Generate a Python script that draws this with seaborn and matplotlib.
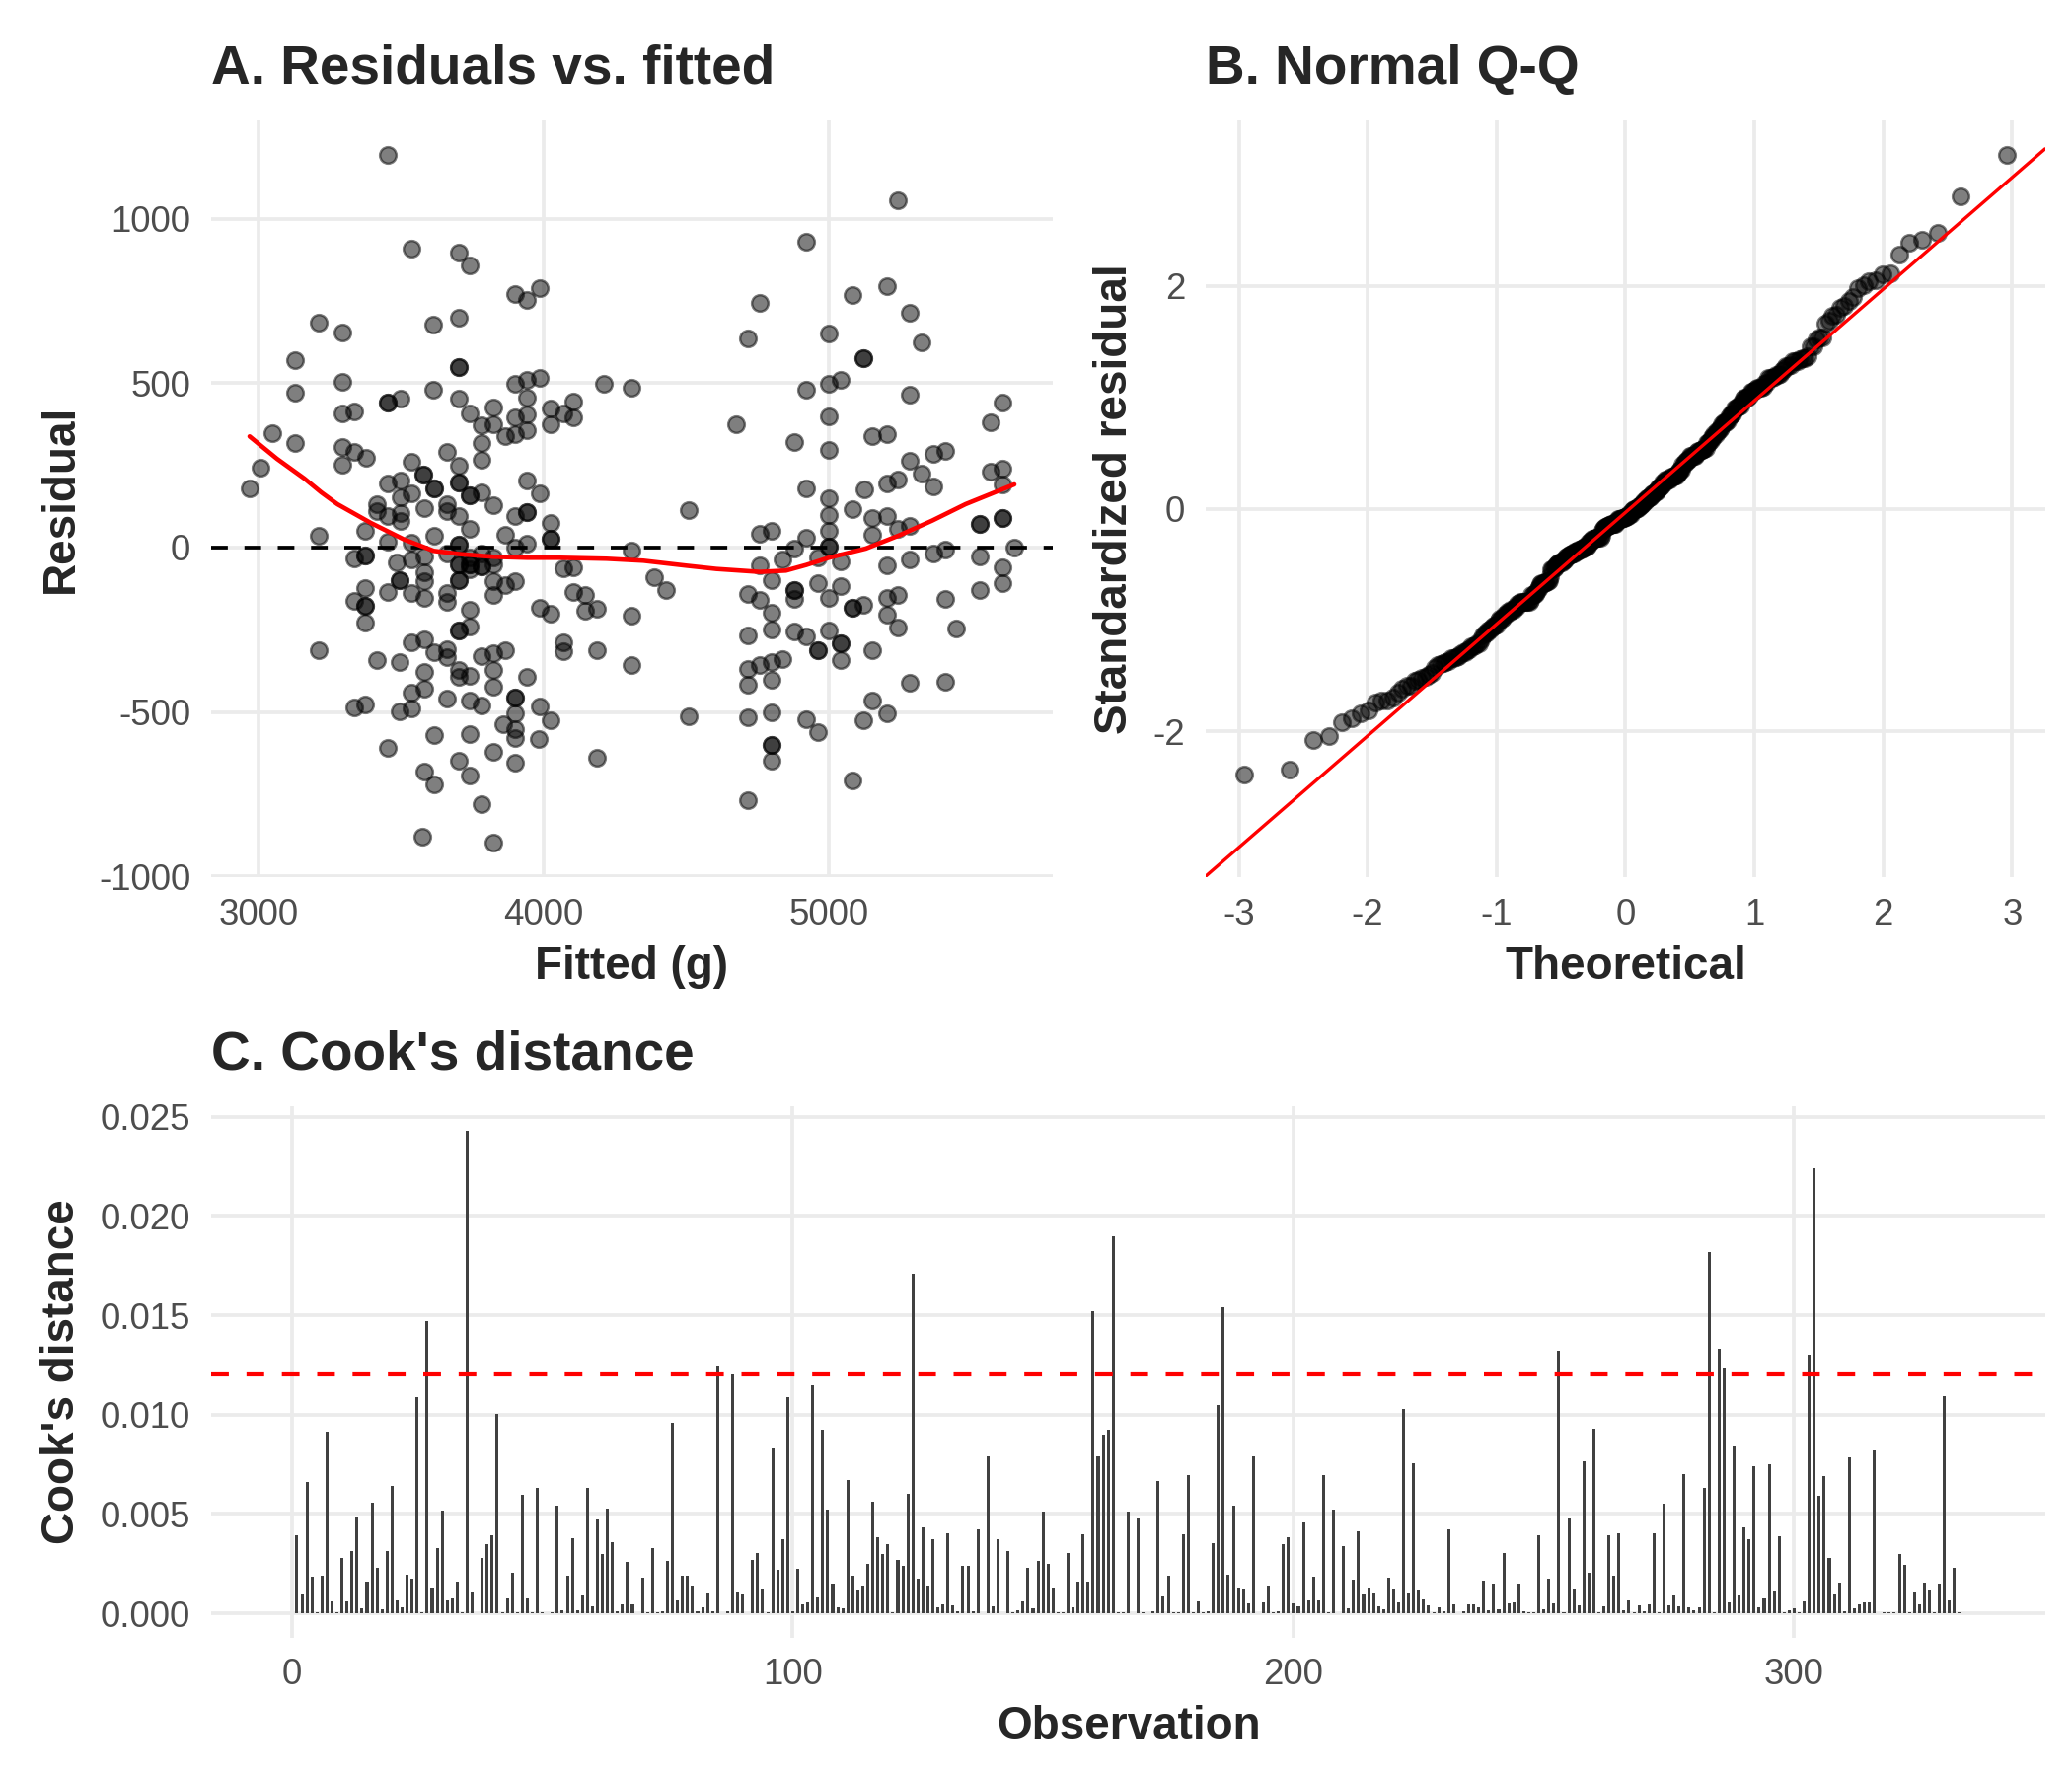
import numpy as np
import pandas as pd
import matplotlib
matplotlib.use("Agg")
import matplotlib.pyplot as plt
import seaborn as sns
from statistics import NormalDist

# Panel A: fitted body mass (g) and raw residuals
# (overlapping / darker points listed twice)
fitted = [
    3455, 3537, 3213, 3295, 3613, 3129, 3129, 3295, 3455, 3455,
    3499, 3613, 3295, 3335, 3050, 3129, 3295, 3335, 3376, 3295,
    3007, 2969, 3536, 3578, 3578, 3615, 3615, 3453, 3498, 3498,
    3536, 3415, 3415, 3454, 3498, 3498, 3580, 3373, 3213, 3615,
    3454, 3536, 3335, 3373, 3373, 3485, 3536, 3580, 3580, 3496,
    3496, 3580, 3373, 3454, 3536, 3580, 3335, 3373, 3373, 3373,
    3213, 3415, 3496, 3536, 3580, 3615, 3580, 3536, 3580, 3335,
    3373, 3496, 3536, 3615, 3454, 3580, 3615, 3576,
    3701, 3741, 3901, 3942, 3986, 3701, 3701, 3701, 3701, 3901,
    3942, 3986, 3741, 3782, 3823, 3823, 3864, 3901, 3901, 3942,
    3942, 3942, 4026, 4026, 4068, 4105, 4105, 4210, 3782, 3782,
    3660, 3701, 3701, 3701, 3741, 3741, 3782, 3823, 3660, 3660,
    3701, 3942, 3986, 3901, 3942, 3942, 3741, 3864, 4023, 4023,
    4023, 3701, 3701, 3942, 3901, 3660, 3741, 3782, 3823, 3701,
    3701, 3741, 3741, 3782, 3782, 3823, 3701, 3701, 3741, 3823,
    3864, 3901, 3823, 3660, 3660, 4068, 4105, 4105, 4146, 4186,
    4146, 3986, 4026, 3741, 3741, 3701, 3701, 4068, 4068, 4186,
    3660, 3660, 3701, 3701, 3741, 3782, 3823, 3864, 3823, 3823,
    3660, 3741, 3782, 3901, 3901, 3942, 3901, 3986, 4026, 3860,
    3901, 3901, 3983, 3741, 3701, 3741, 3823, 3901, 4186, 3782,
    3823,
    4308, 4308, 4308, 4308, 4388, 4430, 4509, 4509,
    4921, 4758, 5082, 4717, 5000, 5122, 5122, 4921, 5000, 5043,
    4676, 5000, 4880, 5000, 5154, 4921, 5125, 5000, 5082, 5000,
    5154, 4758, 4798, 4921, 5000, 5154, 4880, 5000, 5000, 4758,
    4839, 4962, 5043, 4798, 4717, 4758, 4880, 4880, 4880, 4962,
    5000, 5043, 5082, 5082, 5122, 4798, 4798, 4717, 4880, 4921,
    4962, 4962, 5000, 5043, 5043, 5043, 5154, 4717, 4758, 4798,
    4839, 4717, 4798, 5154, 4717, 4798, 4921, 4962, 5122, 4798,
    4798, 4798, 5082, 4717,
    5243, 5203, 5285, 5326, 5285, 5203, 5608, 5569, 5285, 5367,
    5407, 5326, 5367, 5203, 5243, 5569, 5608, 5608, 5203, 5243,
    5285, 5529, 5529, 5610, 5610, 5367, 5407, 5651, 5203, 5285,
    5529, 5610, 5610, 5529, 5203, 5243, 5203, 5243, 5407, 5447,
    5285, 5407, 5203,
]
residual = [
    1193, 909, 683, 653, 679, 570, 470, 504, 442, 442,
    452, 480, 409, 413, 348, 317, 307, 291, 274, 253,
    243, 179, 260, 222, 222, 179, 179, 196, 203, 153,
    165, 132, 111, 97, 104, 80, 121, 50, 36, 36,
    18, 14, -34, -24, -24, -45, -36, -28, -74, -98,
    -98, -102, -124, -134, -138, -152, -162, -176, -176, -227,
    -313, -341, -348, -287, -280, -318, -379, -440, -429, -486,
    -476, -497, -490, -571, -609, -680, -720, -879,
    896, 857, 771, 754, 790, 700, 548, 548, 452, 497,
    509, 516, 409, 371, 426, 376, 338, 395, 345, 455,
    405, 357, 423, 374, 409, 445, 395, 497, 317, 267,
    291, 250, 199, 199, 158, 158, 168, 128, 132, 111,
    97, 203, 165, 97, 107, 107, 57, 40, 75, 26,
    26, 9, 9, 11, 0, -17, -31, -17, -31, -50,
    -50, -52, -52, -57, -57, -52, -99, -99, -67, -102,
    -114, -102, -145, -138, -166, -64, -60, -134, -145, -185,
    -192, -183, -202, -188, -240, -251, -251, -287, -315, -313,
    -308, -332, -372, -393, -391, -330, -320, -313, -372, -422,
    -460, -464, -479, -455, -455, -393, -503, -483, -526, -536,
    -553, -578, -582, -567, -649, -692, -621, -653, -639, -781,
    -898,
    486, -8, -206, -356, -90, -130, 113, -514,
    930, 743, 769, 636, 651, 577, 577, 480, 499, 509,
    374, 399, 321, 298, 338, 179, 178, 149, 118, 99,
    89, 43, 51, 30, 51, 40, -3, 3, 3, -55,
    -36, -31, -43, -99, -142, -159, -128, -128, -156, -109,
    -152, -116, -183, -183, -173, -199, -249, -266, -256, -270,
    -313, -313, -251, -291, -291, -341, -313, -368, -358, -347,
    -340, -418, -401, -464, -517, -500, -521, -561, -524, -599,
    -599, -649, -709, -767,
    1055, 795, 714, 625, 466, 345, 440, 381, 263, 284,
    293, 224, 185, 196, 206, 232, 241, 192, 97, 57,
    65, 71, 71, 89, 89, -17, -6, 0, -55, -36,
    -28, -60, -109, -128, -152, -145, -205, -244, -156, -247,
    -411, -408, -503,
]

# loess curve in panel A
smooth_fitted = [2969, 3065, 3161, 3220, 3277, 3394, 3510, 3615, 3709, 3825,
                 3942, 4058, 4221, 4350, 4500, 4606, 4758, 4850, 4921, 5000,
                 5130, 5247, 5363, 5480, 5651]
smooth_resid = [338, 270, 210, 168, 132, 75, 25, -10, -20, -28,
                -31, -31, -34, -40, -55, -65, -74, -70, -53, -31,
                -3, 37, 82, 132, 192]

# Panel C: Cook's distance per observation (1..333)
cooks_d = [
    0.00393, 0.00095, 0.00662, 0.00186, 0.00005, 0.0019, 0.00913, 0.0006, 0.00005, 0.0028,
    0.0006, 0.00316, 0.00487, 0.00025, 0.0016, 0.00557, 0.0023, 0.0002, 0.00316, 0.00642,
    0.00065, 0.0003, 0.00196, 0.00176, 0.01089, 0.00005, 0.0147, 0.0013, 0.0033, 0.00517,
    0.00065, 0.00075, 0.0016, 0.00005, 0.0243, 0.00105, 0.0, 0.0028, 0.00346, 0.00393,
    0.01003, 0.00005, 0.00075, 0.00206, 0.00005, 0.00597, 0.00075, 0.00005, 0.00632, 0.00005,
    0.0, 0.00005, 0.00542, 0.00015, 0.0019, 0.00376, 0.00015, 0.0009, 0.00632, 0.00035,
    0.00472, 0.003, 0.00527, 0.0036, 0.0001, 0.00045, 0.0026, 0.00045, 0.0, 0.0018,
    0.00005, 0.0033, 0.00005, 0.0001, 0.00266, 0.00958, 0.00065, 0.0019, 0.0019, 0.0014,
    0.0001, 0.0003, 0.001, 0.0001, 0.01249, 0.0, 0.0001, 0.01204, 0.00105, 0.00095,
    0.0, 0.0027, 0.00306, 0.00125, 0.00005, 0.00828, 0.0022, 0.00371, 0.01089, 0.0001,
    0.00226, 0.00045, 0.00055, 0.01149, 0.0008, 0.00923, 0.00522, 0.0015, 0.0003, 0.00025,
    0.00672, 0.0019, 0.0012, 0.0014, 0.0025, 0.00562, 0.00381, 0.00301, 0.00346, 0.00005,
    0.0027, 0.0024, 0.00602, 0.0171, 0.00176, 0.00431, 0.0014, 0.00371, 0.0003, 0.00045,
    0.00401, 0.0004, 0.0001, 0.0024, 0.0024, 0.0001, 0.00421, 0.0, 0.00788, 0.00035,
    0.00371, 0.0, 0.00316, 0.00005, 0.00015, 0.0006, 0.0023, 0.00025, 0.00266, 0.00512,
    0.0025, 0.0013, 0.00005, 0.00005, 0.00306, 0.0003, 0.0016, 0.00396, 0.0016, 0.0152,
    0.00788, 0.00898, 0.00923, 0.0190, 0.00005, 0.00005, 0.00512, 0.0, 0.00477, 0.00005,
    0.0, 0.0001, 0.00667, 0.00085, 0.0019, 0.00005, 0.00005, 0.00396, 0.00697, 0.00005,
    0.0006, 0.00005, 0.0001, 0.00351, 0.01048, 0.0154, 0.00196, 0.00542, 0.0013, 0.00125,
    0.0005, 0.00788, 0.0, 0.00055, 0.0014, 0.00005, 0.0001, 0.00346, 0.00381, 0.0005,
    0.00035, 0.00457, 0.00065, 0.00186, 0.00065, 0.00697, 0.00005, 0.00522, 0.0, 0.00336,
    0.00025, 0.0017, 0.00411, 0.00095, 0.0013, 0.001, 0.00035, 0.0002, 0.0018, 0.00125,
    0.00055, 0.01028, 0.001, 0.00758, 0.0012, 0.0007, 0.0004, 0.00005, 0.0003, 0.0001,
    0.00421, 0.00045, 0.0, 0.0001, 0.00045, 0.00045, 0.0003, 0.00166, 0.00015, 0.0015,
    0.0002, 0.00306, 0.0005, 0.00055, 0.0015, 0.0001, 0.00005, 0.00005, 0.00391, 0.0002,
    0.00176, 0.0005, 0.0132, 0.00005, 0.00477, 0.00125, 0.0004, 0.00768, 0.00206, 0.00928,
    0.00005, 0.00035, 0.00391, 0.0019, 0.00401, 0.00015, 0.00065, 0.00005, 0.0004, 0.0001,
    0.00045, 0.00401, 0.00005, 0.00552, 0.0004, 0.0009, 0.00035, 0.00702, 0.0003, 0.00015,
    0.0003, 0.00632, 0.0182, 0.00005, 0.01334, 0.01239, 0.00055, 0.00838, 0.0009, 0.00431,
    0.00371, 0.00742, 0.0003, 0.00075, 0.00753, 0.0011, 0.00386, 0.00005, 0.00015, 0.00025,
    0.00005, 0.0006, 0.013, 0.0224, 0.00592, 0.00692, 0.0028, 0.00095, 0.00156, 0.0001,
    0.00783, 0.00025, 0.00045, 0.00055, 0.00055, 0.00818, 0.0, 0.00005, 0.00005, 0.00005,
    0.003, 0.00246, 0.00005, 0.00105, 0.00045, 0.00156, 0.0012, 0.00005, 0.0015, 0.01094,
    0.00065, 0.0023, 0.00005,
]

sns.set_theme(style="white")
plt.rcParams["font.family"] = ["Liberation Sans", "DejaVu Sans"]
plt.rcParams["axes.unicode_minus"] = False

GRID = "#EBEBEB"
TICK = "#4D4D4D"

df = pd.DataFrame({"fitted": fitted, "resid": residual})
df["std_resid"] = df["resid"] / df["resid"].std()

# Q-Q data (ppoints like R), line through the quartiles
n = len(df)
probs = (np.arange(1, n + 1) - 0.5) / n
qq = pd.DataFrame({
    "theoretical": [NormalDist().inv_cdf(p) for p in probs],
    "sample": np.sort(df["std_resid"].values),
})
q1, q3 = np.quantile(df["std_resid"], [0.25, 0.75])
t1, t3 = NormalDist().inv_cdf(0.25), NormalDist().inv_cdf(0.75)
qq_slope = (q3 - q1) / (t3 - t1)
qq_int = q1 - qq_slope * t1

cook = pd.DataFrame({"obs": np.arange(1, len(cooks_d) + 1), "d": cooks_d})
cut = 4 / len(cook)


def style(ax, title, xlabel, ylabel):
    ax.set_title(title, loc="left", fontsize=13.2, fontweight="bold", pad=9)
    ax.set_xlabel(xlabel, fontsize=11, fontweight="bold", labelpad=3)
    ax.set_ylabel(ylabel, fontsize=11, fontweight="bold", labelpad=4)
    ax.grid(True, color=GRID, lw=0.9)
    ax.set_axisbelow(True)
    for s in ax.spines.values():
        s.set_visible(False)
    ax.tick_params(length=0, pad=5, labelsize=8.8, labelcolor=TICK)


fig = plt.figure(figsize=(7, 6), dpi=300)
ax_a = fig.add_axes([0.102, 0.506, 0.406, 0.426])
ax_b = fig.add_axes([0.582, 0.506, 0.405, 0.426])
ax_c = fig.add_axes([0.102, 0.078, 0.885, 0.299])

# A. Residuals vs fitted
sns.scatterplot(data=df, x="fitted", y="resid", ax=ax_a, color="black",
                alpha=0.5, s=16, edgecolor="black", linewidth=0.6)
ax_a.axhline(0, color="black", lw=0.9, ls=(0, (4.5, 4.5)))
sns.lineplot(x=smooth_fitted, y=smooth_resid, ax=ax_a, color="red", lw=1.1)
ax_a.set_xticks([3000, 4000, 5000])
ax_a.set_yticks([-1000, -500, 0, 500, 1000])
style(ax_a, "A. Residuals vs. fitted", "Fitted (g)", "Residual")

# B. Normal Q-Q
sns.scatterplot(data=qq, x="theoretical", y="sample", ax=ax_b, color="black",
                alpha=0.5, s=16, edgecolor="black", linewidth=0.6)
ax_b.axline((0, qq_int), slope=qq_slope, color="red", lw=0.8)
tmin, tmax = qq["theoretical"].min(), qq["theoretical"].max()
ylo = min(qq["sample"].min(), qq_int + qq_slope * tmin)
yhi = max(qq["sample"].max(), qq_int + qq_slope * tmax)
ax_b.set_xlim(tmin - 0.05 * (tmax - tmin), tmax + 0.05 * (tmax - tmin))
ax_b.set_ylim(ylo - 0.05 * (yhi - ylo), yhi + 0.05 * (yhi - ylo))
ax_b.set_xticks([-3, -2, -1, 0, 1, 2, 3])
ax_b.set_yticks([-2, 0, 2])
style(ax_b, "B. Normal Q-Q", "Theoretical", "Standardized residual")

# C. Cook's distance
sns.barplot(data=cook, x="obs", y="d", ax=ax_c, native_scale=True, width=0.6,
            color="#404040", saturation=1, errorbar=None, linewidth=0)
ax_c.axhline(cut, color="red", lw=1.0, ls=(0, (4.3, 4.3)))
lo, hi = cook["obs"].min() - 0.45, cook["obs"].max() + 0.45
pad = 0.05 * (hi - lo)
ax_c.set_xlim(lo - pad, hi + pad)
dmax = cook["d"].max()
ax_c.set_ylim(-0.05 * dmax, 1.05 * dmax)
ax_c.set_xticks([0, 100, 200, 300])
ax_c.set_xticklabels(["0", "100", "200", "300"])
ax_c.set_yticks([0, 0.005, 0.010, 0.015, 0.020, 0.025])
ax_c.set_yticklabels(["0.000", "0.005", "0.010", "0.015", "0.020", "0.025"])
style(ax_c, "C. Cook's distance", "Observation", "Cook's distance")

fig.savefig("out.png", dpi=300, facecolor="white")
